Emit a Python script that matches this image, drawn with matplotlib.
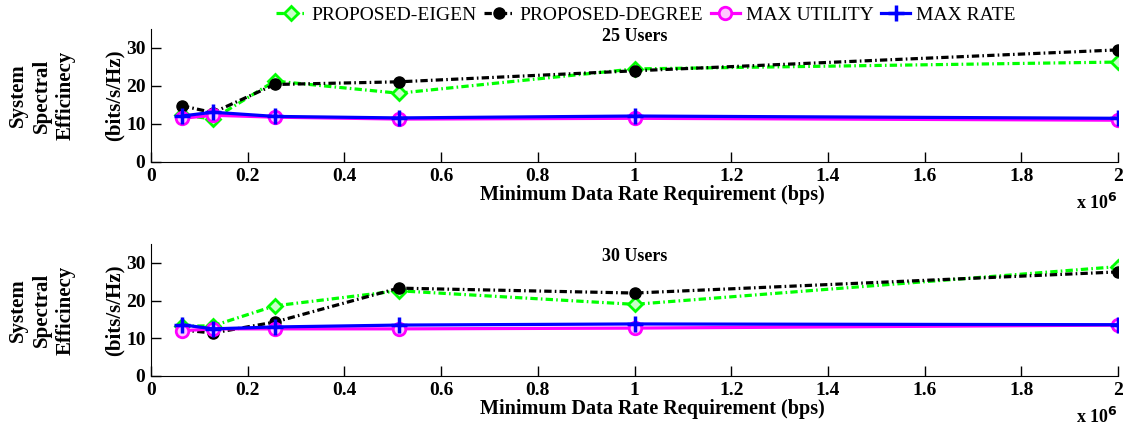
import matplotlib
matplotlib.use("Agg")
import matplotlib.pyplot as plt
from matplotlib.lines import Line2D

plt.rcParams['font.family'] = ['Liberation Serif', 'DejaVu Serif']

# Minimum data rate requirement (bps)
rates = [64e3, 128e3, 256e3, 512e3, 1e6, 2e6]

# 25 users
eigen_25 = [12.4, 11.3, 21.3, 18.1, 24.5, 26.3]
degree_25 = [14.8, 13.0, 20.4, 21.1, 24.0, 29.5]
utility_25 = [11.5, 12.3, 11.8, 11.3, 11.5, 11.0]
maxrate_25 = [12.1, 13.1, 12.0, 11.6, 12.1, 11.5]

# 30 users
eigen_30 = [13.2, 13.3, 18.6, 22.6, 19.0, 29.0]
degree_30 = [12.2, 11.4, 14.3, 23.3, 22.0, 27.6]
utility_30 = [12.0, 12.5, 12.5, 12.5, 12.7, 13.5]
maxrate_30 = [13.6, 12.5, 13.0, 13.5, 13.8, 13.6]

labels = ['PROPOSED-EIGEN', 'PROPOSED-DEGREE', 'MAX UTILITY', 'MAX RATE']
xticks = [0, 0.2e6, 0.4e6, 0.6e6, 0.8e6, 1e6, 1.2e6, 1.4e6, 1.6e6, 1.8e6, 2e6]
xticklabels = ['0', '0.2', '0.4', '0.6', '0.8', '1', '1.2', '1.4', '1.6', '1.8', '2']

dashdot = (0, (2.3, 1.0, 0.5, 1.0))
styles = [
    dict(color='#00ff00', linestyle=dashdot, marker='D', markersize=7, markerfacecolor='#c8ffc8', markeredgewidth=2),
    dict(color='black', linestyle=dashdot, marker='o', markersize=8, markerfacecolor='black'),
    dict(color='#ff00ff', linestyle='-', marker='o', markersize=9, markerfacecolor='#ffc8ff', markeredgewidth=2),
    dict(color='#0000ff', linestyle='-', marker='+', markersize=12, markeredgewidth=2.5),
]

fig = plt.figure(figsize=(11.26, 4.26), dpi=100)
ax1 = fig.add_axes([151/1126, 1 - 162/426, 967/1126, 133/426])
ax2 = fig.add_axes([151/1126, 1 - 376/426, 967/1126, 132/426])

panels = [(ax1, [eigen_25, degree_25, utility_25, maxrate_25], '25 Users', 33.0),
          (ax2, [eigen_30, degree_30, utility_30, maxrate_30], '30 Users', 31.6)]

for ax, series, title, ty in panels:
    for ys, st in zip(series, styles):
        ax.plot(rates, ys, linewidth=2.3, **st)
    ax.set_xlim(0, 2e6)
    ax.set_ylim(0, 35)
    ax.set_yticks([0, 10, 20, 30])
    ax.set_xticks(xticks)
    ax.set_xticklabels(xticklabels)
    ax.tick_params(direction='in', length=7, width=1, labelsize=14, pad=4)
    for lbl in ax.get_xticklabels() + ax.get_yticklabels():
        lbl.set_fontweight('bold')
    ax.spines['top'].set_visible(False)
    ax.spines['right'].set_visible(False)
    ax.text(1e6, ty, title, ha='center', va='center', fontsize=13, fontweight='bold')
    ax.set_xlabel('Minimum Data Rate Requirement (bps)', fontsize=14.5, fontweight='bold', labelpad=0)
    ax.xaxis.label.set_x(0.518)
    ax.set_ylabel('(bits/s/Hz)', fontsize=15, fontweight='bold', labelpad=1)
    ax.text(-0.113, 0.5, 'System\nSpectral\nEfficinecy', transform=ax.transAxes, rotation=90,
            ha='center', va='center', fontsize=15, fontweight='bold', linespacing=1.25)
    ax.text(1.0, -0.31, r'x 10$^{\mathbf{6}}$', transform=ax.transAxes, ha='right', va='center',
            fontsize=13, fontweight='bold')

handles = [Line2D([], [], linewidth=2.3, **st) for st in styles]
fig.legend(handles, labels, loc='center', bbox_to_anchor=(646/1126, 1 - 15/426), ncol=4,
           frameon=False, fontsize=14, handlelength=1.5, handletextpad=0.3, columnspacing=0.4,
           borderpad=0)

fig.savefig('out.png', dpi=100)
